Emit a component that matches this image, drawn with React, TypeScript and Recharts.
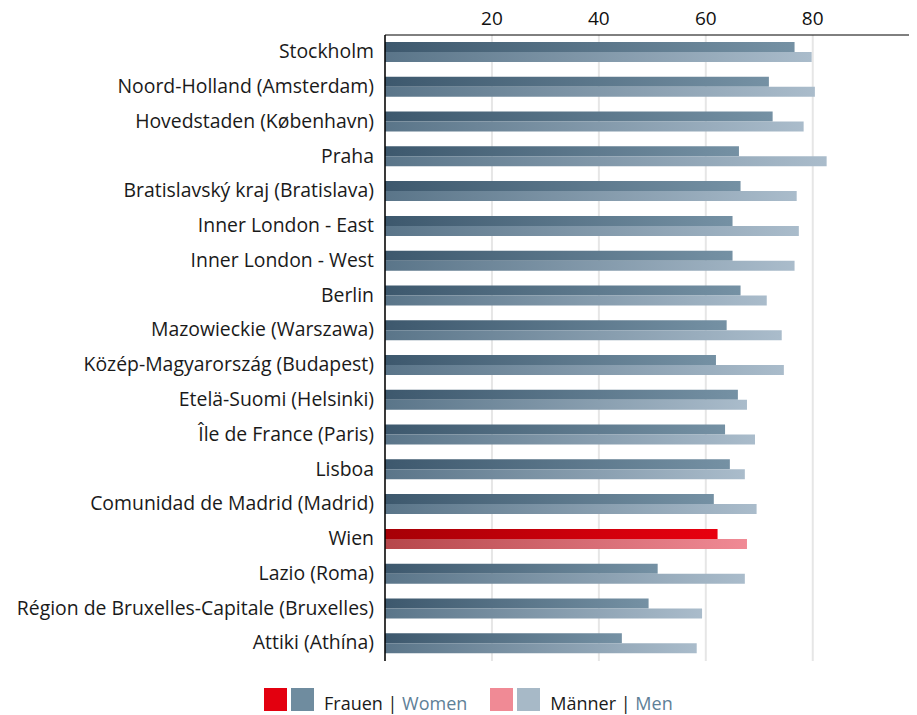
import React from 'react';
import { BarChart, Bar, XAxis, YAxis, CartesianGrid, Cell, Legend } from 'recharts';

const regions = [
  'Stockholm',
  'Noord-Holland (Amsterdam)',
  'Hovedstaden (København)',
  'Praha',
  'Bratislavský kraj (Bratislava)',
  'Inner London - East',
  'Inner London - West',
  'Berlin',
  'Mazowieckie (Warszawa)',
  'Közép-Magyarország (Budapest)',
  'Etelä-Suomi (Helsinki)',
  'Île de France (Paris)',
  'Lisboa',
  'Comunidad de Madrid (Madrid)',
  'Wien',
  'Lazio (Roma)',
  'Région de Bruxelles-Capitale (Bruxelles)',
  'Attiki (Athína)',
];
const women = [76.6, 71.8, 72.5, 66.2, 66.5, 65.0, 65.0, 66.5, 63.9, 61.9, 66.0, 63.6, 64.5, 61.5, 62.2, 51.0, 49.3, 44.3];
const men = [79.8, 80.4, 78.3, 82.6, 77.0, 77.4, 76.6, 71.4, 74.2, 74.6, 67.7, 69.2, 67.3, 69.5, 67.7, 67.3, 59.3, 58.3];
const highlight = 'Wien';
const xTicks = [20, 40, 60, 80];

const data = regions.map((r, i) => ({ region: r, women: women[i], men: men[i] }));

const FONT = '"Open Sans", "Noto Sans", sans-serif';

const LegendContent = () => (
  <div style={{ display: 'flex', alignItems: 'center', paddingLeft: 264, fontFamily: FONT, fontSize: 18, color: '#1a1a1a', height: 23 }}>
    <div style={{ width: 23, height: 23, background: '#e3000f' }} />
    <div style={{ width: 23, height: 23, background: '#6f8c9f', marginLeft: 4 }} />
    <span style={{ marginLeft: 10, position: 'relative', top: 3 }}>Frauen | <span style={{ color: '#5e8097' }}>Women</span></span>
    <div style={{ width: 23, height: 23, background: '#f08a95', marginLeft: 23 }} />
    <div style={{ width: 23, height: 23, background: '#a7b9c7', marginLeft: 4 }} />
    <span style={{ marginLeft: 10, position: 'relative', top: 3 }}>Männer | <span style={{ color: '#5e8097' }}>Men</span></span>
  </div>
);

export default function App() {
  return (
    <div style={{ margin: '-8px 0 0 -8px', width: 917, height: 715, background: '#fff' }}>
      <BarChart
        width={917}
        height={715}
        data={data}
        layout="vertical"
        margin={{ top: 5, right: 0, bottom: 54, left: 0 }}
        barGap={0}
        barSize={10}
      >
        <defs>
          <linearGradient id="gWomen" x1="0" y1="0" x2="1" y2="0">
            <stop offset="0%" stopColor="#3d586d" />
            <stop offset="100%" stopColor="#7591a4" />
          </linearGradient>
          <linearGradient id="gMen" x1="0" y1="0" x2="1" y2="0">
            <stop offset="0%" stopColor="#5a7589" />
            <stop offset="100%" stopColor="#aabccb" />
          </linearGradient>
          <linearGradient id="gWomenRed" x1="0" y1="0" x2="1" y2="0">
            <stop offset="0%" stopColor="#a60006" />
            <stop offset="100%" stopColor="#e8000f" />
          </linearGradient>
          <linearGradient id="gMenRed" x1="0" y1="0" x2="1" y2="0">
            <stop offset="0%" stopColor="#b6474b" />
            <stop offset="100%" stopColor="#f08a95" />
          </linearGradient>
        </defs>
        <CartesianGrid horizontal={false} stroke="#e6e6e6" strokeWidth={2} />
        <XAxis
          type="number"
          orientation="top"
          domain={[0, 99.5]}
          ticks={xTicks}
          height={30}
          tickLine={false}
          axisLine={{ stroke: '#000', strokeWidth: 1 }}
          tick={{ fill: '#111', fontSize: 19, fontFamily: FONT }}
          tickMargin={4}
        />
        <XAxis
          xAxisId="bottom"
          type="number"
          orientation="bottom"
          domain={[0, 99.5]}
          height={0}
          tick={false}
          tickLine={false}
          axisLine={{ stroke: '#dcdcdc', strokeWidth: 2 }}
        />
        <YAxis
          type="category"
          dataKey="region"
          width={385}
          tickLine={false}
          axisLine={{ stroke: '#000', strokeWidth: 1.5 }}
          tick={{ fill: '#1a1a1a', fontSize: 19.4, fontFamily: FONT, dy: -1 }}
          tickMargin={5}
          interval={0}
        />
        <Bar dataKey="women" isAnimationActive={false}>
          {data.map((d) => (
            <Cell key={d.region} fill={d.region === highlight ? 'url(#gWomenRed)' : 'url(#gWomen)'} />
          ))}
        </Bar>
        <Bar dataKey="men" isAnimationActive={false}>
          {data.map((d) => (
            <Cell key={d.region} fill={d.region === highlight ? 'url(#gMenRed)' : 'url(#gMen)'} />
          ))}
        </Bar>
        <Legend
          layout="horizontal"
          verticalAlign="middle"
          align="center"
          content={() => <LegendContent />}
          wrapperStyle={{ position: 'absolute', top: 688, left: 0, width: 917, height: 23 }}
        />
      </BarChart>
    </div>
  );
}
